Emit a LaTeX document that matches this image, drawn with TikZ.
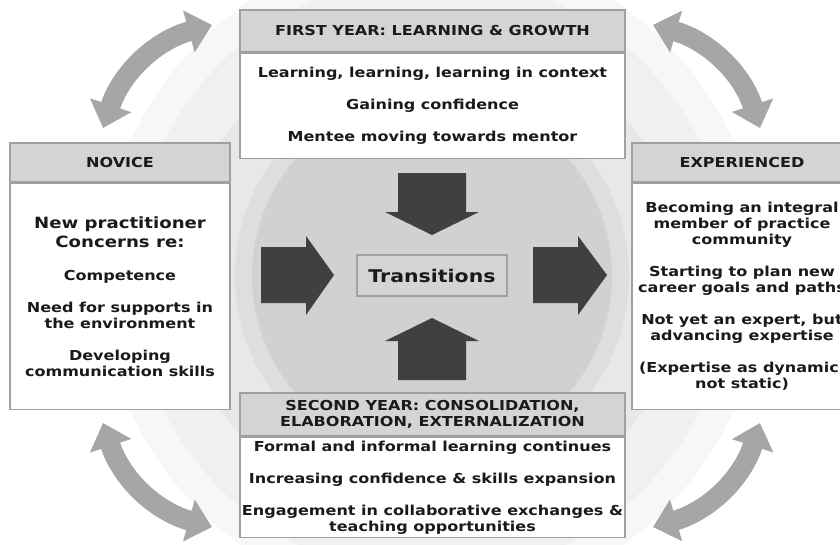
\documentclass[tikz,border=0pt]{standalone}
\usepackage{fontspec}
\setmainfont{DejaVu Sans}[FakeStretch=1.17]
\usetikzlibrary{positioning,arrows.meta}

\definecolor{ink}{HTML}{1A1A1A}
\definecolor{boxline}{HTML}{A0A0A0}
\definecolor{headfill}{HTML}{D4D4D4}
\definecolor{blockfill}{HTML}{404040}
\definecolor{swingfill}{HTML}{A6A6A6}

\newcommand\bigline{\fontsize{15.5}{16}\selectfont}

\tikzset{
  head/.style={draw=boxline, line width=1.5pt, fill=headfill, inner sep=0pt,
    align=center, text=ink, font=\bfseries\fontsize{13.7}{16}\selectfont},
  body/.style={draw=boxline, line width=1.5pt, fill=white, inner sep=0pt,
    align=center, text=ink, font=\bfseries\fontsize{13.7}{16}\selectfont},
  hub/.style={draw=boxline, line width=1.2pt, fill=headfill, inner sep=0pt,
    minimum width=150pt, minimum height=41pt, text=ink,
    font=\bfseries\fontsize{17.5}{20}\selectfont},
  swing/.style={draw=swingfill, line width=20pt,
    {Triangle[length=24pt,width=42pt]}-{Triangle[length=24pt,width=42pt]}},
  block/.style={fill=blockfill},
}

\begin{document}
\begin{tikzpicture}[x=1pt,y=-1pt]
\useasboundingbox (0,0) rectangle (840,544);
\clip (0,0) rectangle (840,544);

% soft rings behind everything
\fill[white] (0,0) rectangle (840,544);
\fill[fill=black!3] (432,276) circle[radius=330pt];
\fill[fill=black!6] (432,276) circle[radius=300pt];
\fill[fill=black!9] (432,276) circle[radius=250pt];
\fill[fill=black!13] (432,276) circle[radius=197pt];
\fill[fill=black!18] (432,276) circle[radius=180pt];

% stages
\node[head, minimum width=385pt, minimum height=42pt] (firsthead) at (432.5,31)
  {FIRST YEAR: LEARNING \& GROWTH};
\node[body, minimum width=385pt, minimum height=105pt, below=0pt of firsthead] (firstbody)
  {Learning, learning, learning in context\\[15.5pt]
   Gaining confidence\\[16pt]
   Mentee moving towards mentor};

\node[head, minimum width=220pt, minimum height=39pt] (novicehead) at (120,162.5) {NOVICE};
\node[body, minimum width=220pt, minimum height=226pt, below=0pt of novicehead] (novicebody)
  {\bigline New practitioner\\[3pt]
   \bigline Concerns re:\\[17pt]
   Competence\\[16pt]
   Need for supports in\\the environment\\[16pt]
   Developing\\communication skills};

\node[head, minimum width=220pt, minimum height=39pt] (exphead) at (742,162.5) {EXPERIENCED};
\node[body, minimum width=220pt, minimum height=226pt, below=0pt of exphead] (expbody)
  {Becoming an integral\\member of practice\\community\\[16pt]
   Starting to plan new\\career goals and paths\\[16pt]
   Not yet an expert, but\\advancing expertise\\[16pt]
   (Expertise as dynamic,\\not static)};

\node[head, minimum width=385pt, minimum height=43pt] (secondhead) at (432.5,414.5)
  {SECOND YEAR: CONSOLIDATION,\\ELABORATION, EXTERNALIZATION};
\node[body, minimum width=385pt, minimum height=100pt, below=0pt of secondhead] (secondbody)
  {Formal and informal learning continues\\[16pt]
   Increasing confidence \& skills expansion\\[16pt]
   Engagement in collaborative exchanges \&\\teaching opportunities};

% block arrows into and out of the hub
\node[hub] (hub) at (432,275.5) {Transitions};
\fill[block] (261,247) -- (306,247) -- (306,236) -- (334,275) -- (306,315) -- (306,303) -- (261,303) -- cycle;
\fill[block] (533,247) -- (578,247) -- (578,236) -- (607,275) -- (578,315) -- (578,303) -- (533,303) -- cycle;
\fill[block] (398,173) -- (466,173) -- (466,212) -- (479,212) -- (432,235) -- (385,212) -- (398,212) -- cycle;
\fill[block] (398,380) -- (466,380) -- (466,341) -- (479,341) -- (432,318) -- (385,341) -- (398,341) -- cycle;

% curved two-way arrows between the stages
\coordinate (tla) at (103,128);
\coordinate (tlb) at (212,25);
\coordinate (tra) at (653,25);
\coordinate (trb) at (760,128);
\coordinate (bra) at (760,423);
\coordinate (brb) at (653,527);
\coordinate (bla) at (212,527);
\coordinate (blb) at (103,423);
\draw[swing] (tla) to[bend left=28] (tlb);
\draw[swing] (tra) to[bend left=28] (trb);
\draw[swing] (bra) to[bend left=28] (brb);
\draw[swing] (bla) to[bend left=28] (blb);
\end{tikzpicture}
\end{document}
